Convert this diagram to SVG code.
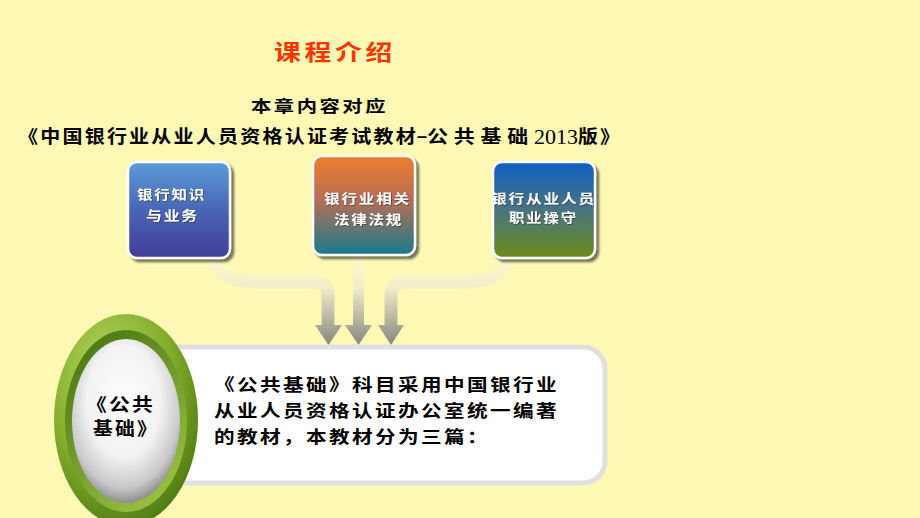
<svg xmlns="http://www.w3.org/2000/svg" width="920" height="518" viewBox="0 0 920 518">
<defs>
<style>
.cjk{font-family:"Noto Sans CJK SC","Noto Sans CJK TC",sans-serif;font-weight:700}
.boxtxt{fill:#ffffff;font-size:13px;letter-spacing:1.5px}
.body{fill:#000000;font-size:17px;letter-spacing:2px}
.conn{fill:none;stroke-linecap:butt}
</style>
<linearGradient id="g1" x1="0" y1="0" x2="0" y2="1">
<stop offset="0" stop-color="#5B9CD8"/><stop offset="0.5" stop-color="#4A66B6"/><stop offset="1" stop-color="#403E97"/>
</linearGradient>
<linearGradient id="g2" x1="0" y1="0" x2="0" y2="1">
<stop offset="0" stop-color="#F07C2E"/><stop offset="0.45" stop-color="#B46E56"/><stop offset="1" stop-color="#187B8C"/>
</linearGradient>
<linearGradient id="g3" x1="0" y1="0" x2="0" y2="1">
<stop offset="0" stop-color="#0F5FC2"/><stop offset="0.5" stop-color="#4A7482"/><stop offset="1" stop-color="#6A8B18"/>
</linearGradient>
<linearGradient id="ga" gradientUnits="userSpaceOnUse" x1="0" y1="258" x2="0" y2="345">
<stop offset="0" stop-color="#FBF8D8" stop-opacity="0.6"/><stop offset="0.35" stop-color="#F0EDC8"/><stop offset="1" stop-color="#86867E"/>
</linearGradient>
<radialGradient id="gring" cx="0.38" cy="0.3" r="0.75">
<stop offset="0" stop-color="#BCD865"/><stop offset="0.55" stop-color="#86B02E"/><stop offset="1" stop-color="#4C7A10"/>
</radialGradient>
<linearGradient id="gbevel" x1="0.2" y1="0" x2="0.8" y2="1">
<stop offset="0" stop-color="#4A7612"/><stop offset="1" stop-color="#9CC446"/>
</linearGradient>
<radialGradient id="gwhite" cx="0.48" cy="0.38" r="0.62">
<stop offset="0" stop-color="#FFFFFF"/><stop offset="0.55" stop-color="#F2F2F2"/><stop offset="0.85" stop-color="#C8C8C8"/><stop offset="1" stop-color="#8E8E8E"/>
</radialGradient>
<filter id="sh" x="-10%" y="-10%" width="125%" height="125%">
<feDropShadow dx="3" dy="3" stdDeviation="1" flood-color="#5E5E42" flood-opacity="0.85"/>
</filter>
<filter id="tsh" x="-10%" y="-20%" width="120%" height="150%">
<feDropShadow dx="0.8" dy="0.8" stdDeviation="0.4" flood-color="#222" flood-opacity="0.6"/>
</filter>
</defs>
<rect x="0" y="0" width="920" height="518" fill="#FDF9B4"/>

<g id="title">
<text class="cjk" x="274" y="60" font-size="22" fill="#FF3300" letter-spacing="3" textLength="122" lengthAdjust="spacingAndGlyphs">课程介绍</text>
<text class="cjk" x="251" y="112" font-size="16" fill="#000" letter-spacing="2" textLength="137" lengthAdjust="spacingAndGlyphs">本章内容对应</text>
<text class="cjk" x="18" y="143" font-size="18" fill="#000" letter-spacing="2" textLength="400" lengthAdjust="spacingAndGlyphs">《中国银行业从业人员资格认证考试教材</text>
<text x="417" y="142" font-family="'Liberation Sans',sans-serif" font-weight="700" font-size="18" fill="#000">–</text>
<text class="cjk" x="427" y="143" font-size="18" fill="#000" letter-spacing="5" textLength="107" lengthAdjust="spacingAndGlyphs">公共基础</text>
<text x="534" y="144" font-family="'Liberation Serif',serif" font-size="21" fill="#000" textLength="44" lengthAdjust="spacingAndGlyphs">2013</text>
<text class="cjk" x="578" y="143" font-size="18" fill="#000" letter-spacing="2" textLength="44" lengthAdjust="spacingAndGlyphs">版》</text>
</g>

<g id="connectors">
<path class="conn" d="M213 262 C222 278 238 282 258 282 L314 282 Q328 282 328 296 L328 327" stroke="url(#ga)" stroke-width="13"/>
<polygon points="315,325 342,325 328.5,345" fill="url(#ga)"/>
<path class="conn" d="M358.5 256 L358.5 327" stroke="url(#ga)" stroke-width="11"/>
<polygon points="345,325 372,325 358.5,345" fill="url(#ga)"/>
<path class="conn" d="M507 262 C498 278 482 282 462 282 L405 282 Q391 282 391 296 L391 327" stroke="url(#ga)" stroke-width="13"/>
<polygon points="378,325 404,325 391,345" fill="url(#ga)"/>
</g>

<g id="box1">
<rect x="128" y="162" width="102" height="96" rx="9" fill="url(#g1)" stroke="#ffffff" stroke-width="2.5" filter="url(#sh)"/>
<g filter="url(#tsh)">
<text class="cjk boxtxt" x="137" y="199" textLength="69" lengthAdjust="spacingAndGlyphs">银行知识</text>
<text class="cjk boxtxt" x="146" y="220" textLength="53" lengthAdjust="spacingAndGlyphs">与业务</text>
</g>
</g>

<g id="box2">
<rect x="313" y="156" width="102" height="99" rx="9" fill="url(#g2)" stroke="#ffffff" stroke-width="2.5" filter="url(#sh)"/>
<g filter="url(#tsh)">
<text class="cjk boxtxt" x="324" y="203" textLength="87" lengthAdjust="spacingAndGlyphs">银行业相关</text>
<text class="cjk boxtxt" x="334" y="224" textLength="69" lengthAdjust="spacingAndGlyphs">法律法规</text>
</g>
</g>

<g id="box3">
<rect x="493" y="162" width="102" height="96" rx="9" fill="url(#g3)" stroke="#ffffff" stroke-width="2.5" filter="url(#sh)"/>
<g filter="url(#tsh)">
<text class="cjk boxtxt" x="491" y="203" textLength="105" lengthAdjust="spacingAndGlyphs">银行从业人员</text>
<text class="cjk boxtxt" x="509" y="222" textLength="69" lengthAdjust="spacingAndGlyphs">职业操守</text>
</g>
</g>

<g id="callout">
<rect x="140" y="347" width="465" height="136" rx="22" fill="#FFFFFF" stroke="#E0E0E0" stroke-width="5"/>
<text class="cjk body" x="214" y="391" textLength="345" lengthAdjust="spacingAndGlyphs">《公共基础》科目采用中国银行业</text>
<text class="cjk body" x="214" y="417" textLength="345" lengthAdjust="spacingAndGlyphs">从业人员资格认证办公室统一编著</text>
<text class="cjk body" x="214" y="443" textLength="276" lengthAdjust="spacingAndGlyphs">的教材，本教材分为三篇：</text>
</g>

<g id="badge">
<ellipse cx="126" cy="420" rx="72" ry="106" fill="url(#gring)"/>
<ellipse cx="126" cy="421" rx="61" ry="91" fill="url(#gbevel)"/>
<ellipse cx="126" cy="421" rx="54" ry="82" fill="url(#gwhite)"/>
<text class="cjk" x="86" y="411" font-size="18" fill="#000" letter-spacing="2" textLength="69" lengthAdjust="spacingAndGlyphs">《公共</text>
<text class="cjk" x="93" y="435" font-size="18" fill="#000" letter-spacing="2" textLength="66" lengthAdjust="spacingAndGlyphs">基础》</text>
</g>
</svg>
